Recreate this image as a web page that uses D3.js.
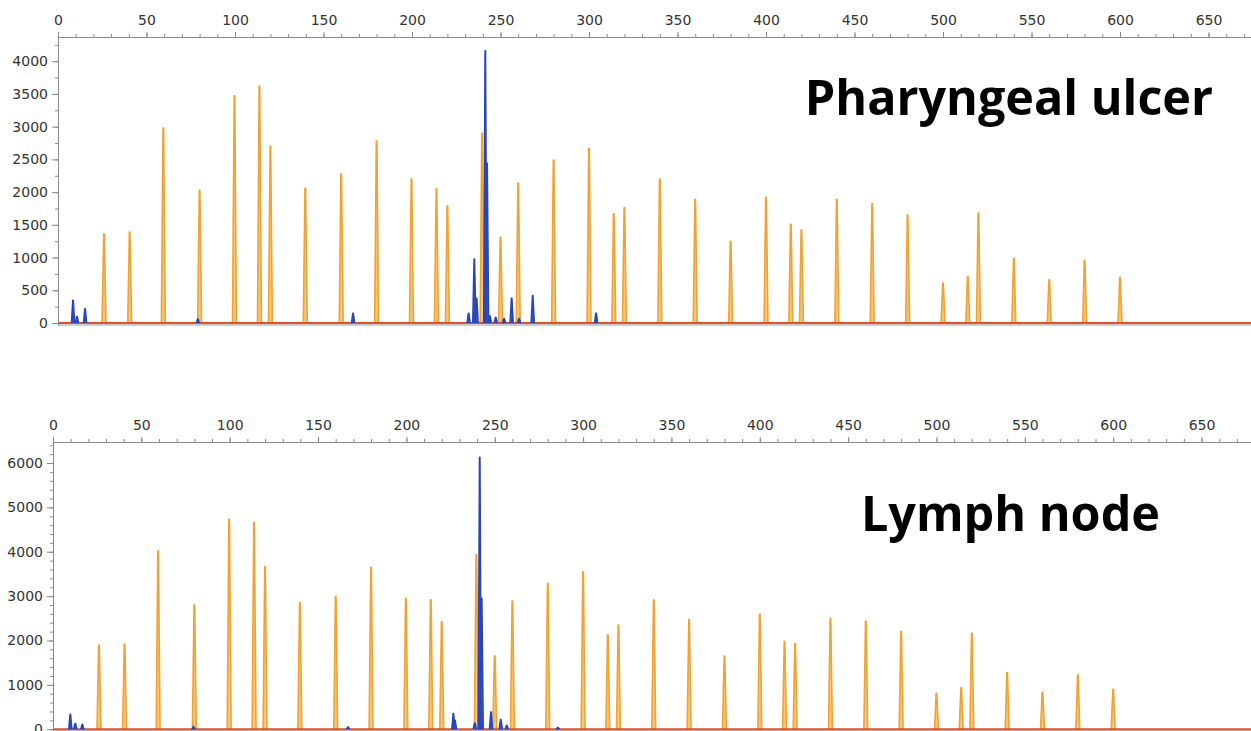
<!DOCTYPE html>
<html>
<head>
<meta charset="utf-8">
<script src="https://cdn.jsdelivr.net/npm/d3@7"></script>
<style>
  body { margin: 0; background: #fff; }
  .tick text { font-family: "DejaVu Sans", Verdana, sans-serif; font-size: 14px; fill: #333; }
  .title { font-family: "Open Sans", sans-serif; font-weight: 700; fill: #000; }
</style>
</head>
<body>
<div id="chart"></div>
<script>
// サイズラダー（オレンジ）のピーク位置 (bp)
const ladderSizes = [26, 40.5, 59.5, 80, 99.7, 113.8, 120, 139.7, 160, 180, 199.7, 213.8, 220, 239.6, 250, 260,
  280, 300, 314, 320, 340, 360, 380, 400, 414, 420, 440, 460, 480, 500, 514, 520, 540, 560, 580, 600];
// 上段: Pharyngeal ulcer
const ladderHeightsUlcer = [1360, 1390, 2980, 2030, 3470, 3620, 2700, 2060, 2280, 2780, 2200, 2050, 1790, 2900, 1310, 2140,
  2490, 2670, 1670, 1760, 2200, 1890, 1250, 1920, 1510, 1420, 1890, 1820, 1650, 610, 710, 1680, 990, 660, 960, 700];
// 下段: Lymph node
const ladderHeightsNode = [1895, 1920, 4020, 2800, 4730, 4660, 3660, 2850, 2990, 3650, 2950, 2920, 2420, 3930, 1650, 2890,
  3290, 3550, 2130, 2350, 2910, 2470, 1650, 2590, 1980, 1930, 2500, 2430, 2210, 810, 940, 2160, 1280, 830, 1220, 900];

// 青のピーク（サンプル）
const bluePosUlcer = [8.5, 10.7, 15.3, 79, 166.7, 232, 235.2, 236.5, 241.4, 242.4, 244, 247.3, 252, 256.3, 260.5, 268.2, 304];
const blueHeightsUlcer = [350, 100, 220, 60, 150, 150, 980, 380, 4160, 2440, 110, 90, 70, 380, 70, 420, 150];
const bluePosNode = [9.8, 12.6, 16.6, 79.5, 167, 226.6, 227.5, 238.7, 241.5, 242.6, 247.9, 253.4, 256.8, 285.7];
const blueHeightsNode = [340, 130, 110, 60, 50, 355, 200, 140, 6130, 2950, 390, 220, 90, 40];

// 軸の目盛
const xTicks = d3.range(0, 651, 50);
const xMinor = d3.range(0, 671, 10);
const yTicksUlcer = d3.range(0, 4001, 500);
const yMinorUlcer = d3.range(0, 4251, 250);
const yTicksNode = d3.range(0, 6001, 1000);
const yMinorNode = d3.range(0, 6401, 200);

const panels = [
  { title: "Pharyngeal ulcer", xDomain: [0, 674], xRange: [58, 1251], yDomain: [-30, 4370], yRange: [325, 37],
    ladder: ladderHeightsUlcer, bluePos: bluePosUlcer, blueH: blueHeightsUlcer,
    yTicks: yTicksUlcer, yMinor: yMinorUlcer, titleX: 1213, titleY: 115 },
  { title: "Lymph node", xDomain: [0, 678], xRange: [53, 1251], yDomain: [-40, 6474], yRange: [731, 442],
    ladder: ladderHeightsNode, bluePos: bluePosNode, blueH: blueHeightsNode,
    yTicks: yTicksNode, yMinor: yMinorNode, titleX: 1160, titleY: 531 }
];

const svg = d3.select("#chart")
  .append("svg")
  .attr("width", 1251)
  .attr("height", 731);

panels.forEach(p => {
  const x = d3.scaleLinear().domain(p.xDomain).range(p.xRange);
  const y = d3.scaleLinear().domain(p.yDomain).range(p.yRange);
  const g = svg.append("g");
  const top = p.yRange[1], bottom = p.yRange[0];

  // 細い三角形でピークを描く
  const peakPath = (pos, h, w) => d3.line()([
    [x(pos - w), y(0)], [x(pos - w * 0.15), y(h)], [x(pos + w * 0.15), y(h)], [x(pos + w), y(0)]
  ]);

  // 下枠
  g.append("line")
    .attr("x1", p.xRange[0]).attr("x2", p.xRange[1])
    .attr("y1", bottom).attr("y2", bottom)
    .attr("stroke", "#999").attr("stroke-width", 1);

  // ラダー
  g.append("g").selectAll("path")
    .data(ladderSizes)
    .join("path")
    .attr("d", (d, i) => peakPath(d, p.ladder[i], 1.1))
    .attr("fill", "#f8c77c")
    .attr("stroke", "#f0a232")
    .attr("stroke-width", 1.6)
    .attr("stroke-linejoin", "round");

  // ベースライン（赤）
  g.append("line")
    .attr("x1", p.xRange[0]).attr("x2", p.xRange[1])
    .attr("y1", y(0)).attr("y2", y(0))
    .attr("stroke", "#e2502a").attr("stroke-width", 2);

  // 青のピーク
  g.append("g").selectAll("path")
    .data(p.bluePos)
    .join("path")
    .attr("d", (d, i) => peakPath(d, p.blueH[i], 0.9))
    .attr("fill", "#3050c0")
    .attr("stroke", "#2a44b8")
    .attr("stroke-width", 1.5)
    .attr("stroke-linejoin", "round");

  // X軸（上）
  g.append("g")
    .attr("transform", `translate(0,${top})`)
    .call(d3.axisTop(x).tickValues(xMinor).tickSize(3).tickFormat("").tickSizeOuter(0))
    .call(a => a.selectAll("line,path").attr("stroke", "#8a8a8a"));
  g.append("g")
    .attr("transform", `translate(0,${top})`)
    .call(d3.axisTop(x).tickValues(xTicks).tickSize(5).tickPadding(7).tickSizeOuter(0).tickFormat(d3.format("d")))
    .call(a => a.selectAll("line,path").attr("stroke", "#8a8a8a"));

  // Y軸（左）
  g.append("g")
    .attr("transform", `translate(${p.xRange[0]},0)`)
    .call(d3.axisLeft(y).tickValues(p.yMinor).tickSize(3).tickFormat("").tickSizeOuter(0))
    .call(a => a.selectAll("line,path").attr("stroke", "#8a8a8a"));
  g.append("g")
    .attr("transform", `translate(${p.xRange[0]},0)`)
    .call(d3.axisLeft(y).tickValues(p.yTicks).tickSize(6).tickPadding(4).tickSizeOuter(0).tickFormat(d3.format("d")))
    .call(a => a.selectAll("line,path").attr("stroke", "#8a8a8a"));

  // タイトル
  g.append("text")
    .attr("class", "title")
    .attr("x", p.titleX)
    .attr("y", p.titleY)
    .attr("text-anchor", "end")
    .style("font-size", "48.5px")
    .text(p.title);
});
</script>
</body>
</html>
